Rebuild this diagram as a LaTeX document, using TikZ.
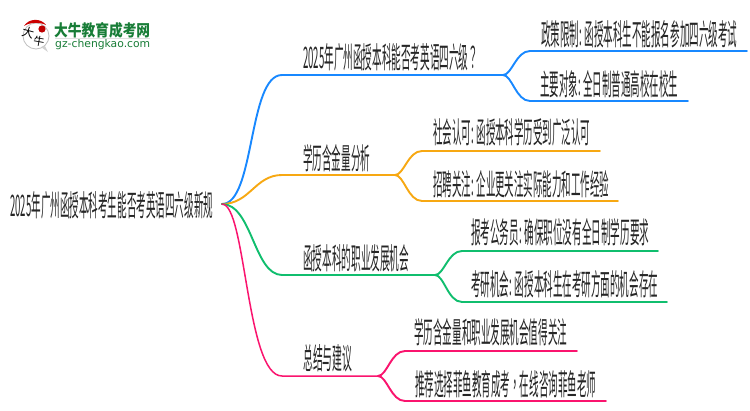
\documentclass[tikz,border=0pt]{standalone}
\usepackage{graphicx}
\usepackage{fontspec}
\setmainfont{Noto Sans CJK SC}
\newfontfamily\tcpunct{Noto Sans CJK TC}
\definecolor{cblue}{RGB}{24,136,255}
\definecolor{corange}{RGB}{247,168,18}
\definecolor{cgreen}{RGB}{16,190,110}
\definecolor{cpink}{RGB}{250,20,110}
\definecolor{cgrn}{RGB}{24,125,55}
\tikzset{
  lbl/.style={inner sep=0pt,anchor=west,text=black!85},
  link/.style={line width=1.9pt,line cap=round,line join=round},
  thinlink/.style={line width=1.5pt,line cap=round,line join=round},
}
\newcommand{\lblbox}[2]{\resizebox{#1pt}{25pt}{\fontsize{14}{14}\selectfont #2}}
\begin{document}
\begin{tikzpicture}[x=1pt,y=-1pt]
\useasboundingbox (0,0) rectangle (750,410);
\fill[white] (0,0) rectangle (750,410);
% logo
\node[circle,draw=black!25,fill=white,line width=0.8pt,minimum size=26pt,inner sep=0pt] (logo) at (36,36) {};
\fill[black!18] (41,47) -- (48,52) -- (45,46) -- cycle;
\fill[red!80!black] (24,26) .. controls (29,18) and (41,18) .. (46,25) .. controls (40,22) and (30,22) .. (24,26) -- cycle;
\fill[red!75!black] (42,29) circle (3.6pt);
\node[inner sep=0pt,rotate=-15] (logoa) at (28,33) {\resizebox{12pt}{!}{大}};
\node[inner sep=0pt,rotate=-10] (logob) at (39,41) {\resizebox{11pt}{!}{牛}};
\node[inner sep=0pt,anchor=west,text=cgrn] (logot) at (54,30) {\resizebox{96pt}{14pt}{\bfseries 大牛教育成考网}};
\node[inner sep=0pt,anchor=west,text=cgrn] (logou) at (55,45) {\resizebox{95pt}{!}{\setmainfont{DejaVu Sans}\fontsize{10}{10}\selectfont gz-chengkao.com}};
\draw[black!12,line width=0.6pt] (55,38.5) -- (150,38.5);
% root
\node[lbl] (root) at (10,205) {\lblbox{203}{2025年广州函授本科考生能否考英语四六级新规}};
\coordinate (o) at (222,204);
% branch labels
\node[lbl] (a) at (303,57) {\lblbox{175}{2025年广州函授本科能否考英语四六级{\tcpunct ？}}};
\node[lbl] (b) at (303,158) {\lblbox{67}{学历含金量分析}};
\node[lbl] (c) at (303,258) {\lblbox{106}{函授本科的职业发展机会}};
\node[lbl] (d) at (303,358) {\lblbox{49}{总结与建议}};
% leaf labels
\node[lbl] (a1) at (541,34) {\lblbox{196}{政策限制: 函授本科生不能报名参加四六级考试}};
\node[lbl] (a2) at (540,84) {\lblbox{138}{主要对象: 全日制普通高校在校生}};
\node[lbl] (b1) at (433,132) {\lblbox{157}{社会认可: 函授本科学历受到广泛认可}};
\node[lbl] (b2) at (433,184) {\lblbox{176}{招聘关注: 企业更关注实际能力和工作经验}};
\node[lbl] (c1) at (471,232) {\lblbox{178}{报考公务员: 确保职位没有全日制学历要求}};
\node[lbl] (c2) at (471,284) {\lblbox{187}{考研机会: 函授本科生在考研方面的机会存在}};
\node[lbl] (d1) at (414,332) {\lblbox{153}{学历含金量和职业发展机会值得关注}};
\node[lbl] (d2) at (415,384) {\lblbox{181}{推荐选择菲鱼教育成考{\tcpunct ，}在线咨询菲鱼老师}};
% named line points
\coordinate (af) at (503,75);
\coordinate (bf) at (395,175);
\coordinate (cf) at (435,275);
\coordinate (df) at (378,376);
\coordinate (ae1) at (747,51);
\coordinate (ae2) at (688,101);
\coordinate (be1) at (600,151);
\coordinate (be2) at (618,201);
\coordinate (ce1) at (658,251);
\coordinate (ce2) at (667,302);
\coordinate (de1) at (577,351);
\coordinate (de2) at (606,401);
% blue
\draw[link,cblue] (o) .. controls (255,204) and (248,75) .. (282,75) -- (af);
\draw[link,cblue] (af) .. controls (512,75) and (516,51) .. (530,51) -- (ae1);
\draw[link,cblue] (af) .. controls (512,75) and (516,101) .. (530,101) -- (ae2);
% orange
\draw[link,corange] (o) .. controls (250,204) and (255,175) .. (282,175) -- (bf);
\draw[link,corange] (bf) .. controls (404,175) and (408,151) .. (422,151) -- (be1);
\draw[link,corange] (bf) .. controls (404,175) and (408,201) .. (422,201) -- (be2);
% green
\draw[link,cgreen] (o) .. controls (252,204) and (254,275) .. (282,275) -- (cf);
\draw[link,cgreen] (cf) .. controls (444,275) and (448,251) .. (462,251) -- (ce1);
\draw[link,cgreen] (cf) .. controls (444,275) and (448,302) .. (462,302) -- (ce2);
% pink
\draw[thinlink,cpink] (o) .. controls (246,204) and (246,376) .. (282,376) -- (df);
\draw[link,cpink] (df) .. controls (387,376) and (391,351) .. (405,351) -- (de1);
\draw[link,cpink] (df) .. controls (387,376) and (391,401) .. (405,401) -- (de2);
\end{tikzpicture}
\end{document}
